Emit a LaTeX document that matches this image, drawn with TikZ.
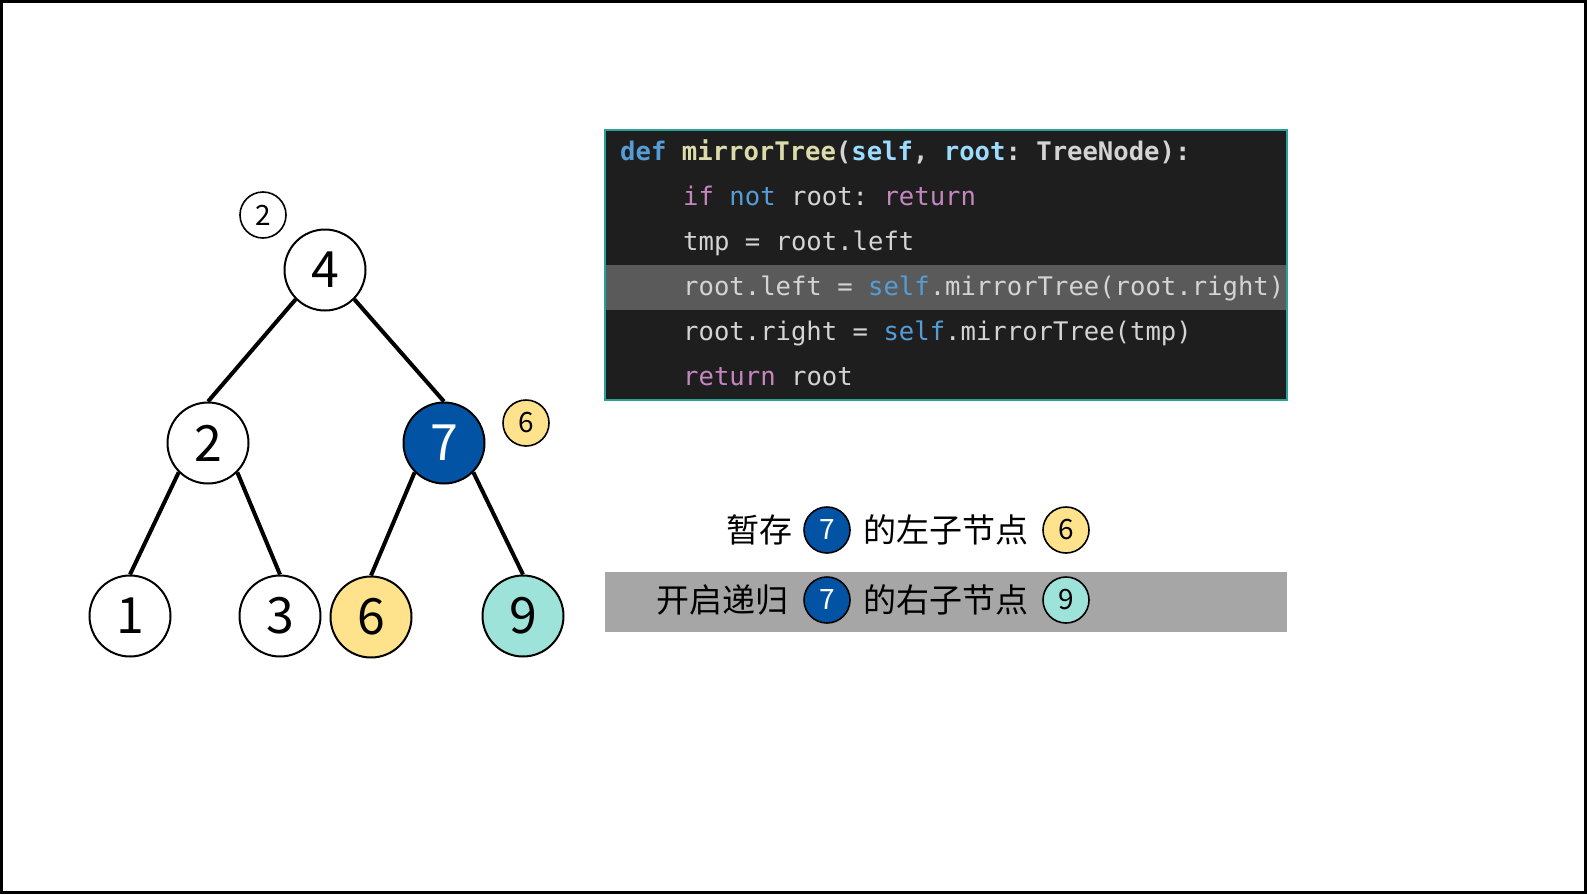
\documentclass[tikz,border=0pt]{standalone}
\usepackage{fontspec}
\usepackage{xcolor}
\usetikzlibrary{positioning, backgrounds}
\newfontfamily\cjkfont{Noto Sans CJK SC}
\newfontfamily\codefont{DejaVu Sans Mono}
\frenchspacing
\definecolor{nodeblue}{RGB}{3, 83, 165}
\definecolor{nodeyellow}{RGB}{255, 227, 140}
\definecolor{nodeteal}{RGB}{158, 227, 217}
\definecolor{codebg}{RGB}{30, 30, 30}
\definecolor{codeline}{RGB}{90, 90, 90}
\definecolor{codeframe}{RGB}{42, 160, 150}
\definecolor{codetext}{RGB}{212, 212, 212}
\definecolor{kwblue}{RGB}{86, 156, 214}
\definecolor{kwpurple}{RGB}{197, 134, 192}
\definecolor{fnyellow}{RGB}{220, 220, 170}
\definecolor{varblue}{RGB}{156, 220, 254}
\definecolor{stepgray}{RGB}{166, 166, 166}
\tikzset{
  treenode/.style={circle, draw=black, line width=2pt, minimum size=81pt, inner sep=0pt,
    fill=white, font=\cjkfont\fontsize{50}{50}\selectfont},
  tagnode/.style={circle, draw=black, line width=1.6pt, minimum size=46pt, inner sep=0pt,
    fill=white, font=\cjkfont\fontsize{28}{28}\selectfont},
  branch/.style={line width=4pt},
  codetxt/.style={anchor=base west, inner sep=0pt, text=codetext,
    font=\codefont\fontsize{25.6}{25.6}\selectfont},
  note/.style={anchor=west, inner sep=0pt, font=\cjkfont\fontsize{33}{33}\selectfont},
}
\newcommand{\kw}[1]{\textcolor{kwblue}{#1}}
\newcommand{\kp}[1]{\textcolor{kwpurple}{#1}}
\begin{document}
\begin{tikzpicture}[x=1pt, y=-1pt]
\useasboundingbox (0,0) rectangle (1587,894);
\draw[line width=3pt] (1.5,1.5) rectangle (1585.5,892.5);

% Tree
\node[treenode] (n4) at (325,270) {4};
\node[treenode] (n2) at (208,443) {2};
\node[treenode, fill=nodeblue, text=white] (n7) at (444,443) {7};
\node[treenode] (n1) at (130,616) {1};
\node[treenode] (n3) at (280,616) {3};
\node[treenode, fill=nodeyellow] (n6) at (371,617) {6};
\node[treenode, fill=nodeteal] (n9) at (523,616) {9};
\node[tagnode] (t2) at (263,215) {2};
\node[tagnode, fill=nodeyellow] (t6) at (526,423) {6};
\begin{scope}[on background layer]
  \draw[branch] (n4.south west) -- (n2.north);
  \draw[branch] (n4.south east) -- (n7.north);
  \draw[branch] (n2.south west) -- (n1.north);
  \draw[branch] (n2.south east) -- (n3.north);
  \draw[branch] (n7.south west) -- (n6.north);
  \draw[branch] (n7.south east) -- (n9.north);
\end{scope}

% Code block
\fill[codebg] (605,129.5) rectangle (1287,400);
\fill[codeline] (606,265) rectangle (1286,310);
\draw[codeframe, line width=2pt] (605,129.5) rectangle (1287,400);
\node[codetxt] (c1) at (620,160) {\bfseries\kw{def} \textcolor{fnyellow}{mirrorTree}(\textcolor{varblue}{self}, \textcolor{varblue}{root}: TreeNode):};
\node[codetxt] (c2) at (683,205) {\kp{if} \kw{not} root: \kp{return}};
\node[codetxt] (c3) at (683,250) {tmp = root.left};
\node[codetxt] (c4) at (683,295) {root.left = \kw{self}.mirrorTree(root.right)};
\node[codetxt] (c5) at (683,340) {root.right = \kw{self}.mirrorTree(tmp)};
\node[codetxt] (c6) at (683,385) {\kp{return} root};

% Step notes
\fill[stepgray] (605,572) rectangle (1287,631.5);
\node[note] (s1) at (726,530) {暂存};
\node[tagnode, fill=nodeblue, text=white] (s1a) at (827,530) {7};
\node[note] (s1b) at (863,530) {的左子节点};
\node[tagnode, fill=nodeyellow] (s1c) at (1066,530) {6};
\node[note] (s2) at (656,600) {开启递归};
\node[tagnode, fill=nodeblue, text=white] (s2a) at (827,600) {7};
\node[note] (s2b) at (863,600) {的右子节点};
\node[tagnode, fill=nodeteal] (s2c) at (1066,600) {9};
\end{tikzpicture}
\end{document}
